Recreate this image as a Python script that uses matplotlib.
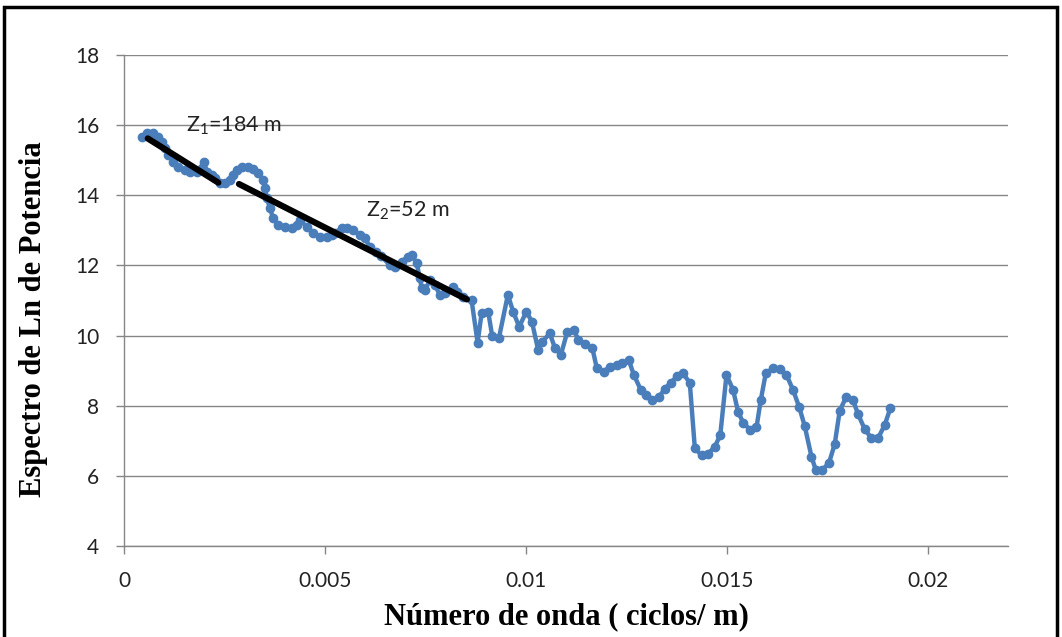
import numpy as np
import matplotlib
matplotlib.use("Agg")
import matplotlib.pyplot as plt
from matplotlib.patches import Rectangle

# espectro de potencia (numero de onda, ln potencia)
k = [0.000440, 0.000565, 0.000721, 0.000846, 0.000945, 0.001020, 0.001095, 0.001219,
     0.001343, 0.001517, 0.001642, 0.001808, 0.001933, 0.001990, 0.002057, 0.002182,
     0.002264, 0.002388, 0.002512, 0.002637, 0.002711, 0.002803, 0.002928, 0.003085,
     0.003209, 0.003333, 0.003465, 0.003507, 0.003550, 0.003632, 0.003706, 0.003831,
     0.004005, 0.004172, 0.004296, 0.004378, 0.004545, 0.004701, 0.004876, 0.005042,
     0.005167, 0.005249, 0.005415, 0.005540, 0.005697, 0.005871, 0.005995, 0.006120,
     0.006269, 0.006393, 0.006617, 0.006741, 0.006908, 0.007065, 0.007157, 0.007281,
     0.007363, 0.007406, 0.007488, 0.007612, 0.007736, 0.007861, 0.007985, 0.008192,
     0.008276, 0.008440, 0.008649, 0.008799, 0.008898, 0.009062, 0.009162, 0.009328,
     0.009552, 0.009684, 0.009834, 0.010012, 0.010149, 0.010306, 0.010410, 0.010597,
     0.010721, 0.010871, 0.011032, 0.011206, 0.011301, 0.011468, 0.011654, 0.011766,
     0.011940, 0.012090, 0.012256, 0.012388, 0.012562, 0.012687, 0.012861, 0.012998,
     0.013147, 0.013308, 0.013458, 0.013607, 0.013769, 0.013913, 0.014080, 0.014204,
     0.014371, 0.014535, 0.014701, 0.014838, 0.014993, 0.015157, 0.015281, 0.015405,
     0.015572, 0.015739, 0.015846, 0.015970, 0.016152, 0.016318, 0.016485, 0.016649,
     0.016799, 0.016940, 0.017107, 0.017214, 0.017380, 0.017545, 0.017687, 0.017811,
     0.017978, 0.018142, 0.018266, 0.018433, 0.018600, 0.018764, 0.018930, 0.019072]
lnP = [15.67, 15.78, 15.78, 15.66, 15.53, 15.35, 15.15, 14.96,
       14.82, 14.72, 14.67, 14.67, 14.78, 14.96, 14.67, 14.58,
       14.49, 14.35, 14.35, 14.44, 14.58, 14.72, 14.82, 14.82,
       14.75, 14.64, 14.44, 14.20, 13.92, 13.64, 13.35, 13.15,
       13.10, 13.08, 13.15, 13.30, 13.10, 12.92, 12.82, 12.82,
       12.87, 12.92, 13.07, 13.08, 13.01, 12.87, 12.77, 12.53,
       12.38, 12.27, 12.01, 11.96, 12.11, 12.25, 12.30, 12.06,
       11.64, 11.35, 11.30, 11.58, 11.44, 11.16, 11.21, 11.39,
       11.25, 11.11, 11.01, 9.80, 10.63, 10.68, 9.99, 9.92,
       11.16, 10.68, 10.25, 10.68, 10.40, 9.59, 9.83, 10.06,
       9.65, 9.45, 10.11, 10.15, 9.87, 9.76, 9.64, 9.07,
       8.97, 9.11, 9.16, 9.21, 9.30, 8.88, 8.45, 8.31,
       8.15, 8.24, 8.48, 8.66, 8.84, 8.92, 8.65, 6.80,
       6.58, 6.63, 6.83, 7.16, 8.88, 8.45, 7.83, 7.52,
       7.32, 7.38, 8.16, 8.92, 9.07, 9.04, 8.88, 8.45,
       7.97, 7.42, 6.55, 6.17, 6.17, 6.37, 6.91, 7.86,
       8.26, 8.16, 7.76, 7.33, 7.07, 7.07, 7.45, 7.93]

# rectas de ajuste (profundidades Z1 y Z2)
fit1_k = [0.000590, 0.002346]
fit1_y = [15.62, 14.36]
fit2_k = [0.002861, 0.008532]
fit2_y = [14.32, 11.03]

blue = '#4A7EBB'
grey = '#868686'

plt.rcParams['mathtext.fontset'] = 'custom'
plt.rcParams['mathtext.rm'] = 'Lato'
plt.rcParams['mathtext.it'] = 'Lato'

fig = plt.figure(figsize=(10.62, 6.37), dpi=100)
ax = fig.add_axes([0.1168, 0.1429, 0.8324, 0.7708])

ax.plot(k, lnP, color=blue, linewidth=3.2, marker='o', markersize=6,
        markerfacecolor=blue, markeredgecolor=blue, zorder=3)
ax.plot(fit1_k, fit1_y, color='black', linewidth=4.5, solid_capstyle='round', zorder=4)
ax.plot(fit2_k, fit2_y, color='black', linewidth=4.5, solid_capstyle='round', zorder=4)

ax.text(0.00155, 15.82, r'Z$_1$=184 m', fontsize=15.5, family='Lato', color='#222222')
ax.text(0.00601, 13.40, r'Z$_2$=52 m', fontsize=15.5, family='Lato', color='#222222')

ax.set_xlim(0, 0.022)
ax.set_ylim(4, 18)
ax.set_xticks([0, 0.005, 0.01, 0.015, 0.02])
ax.set_xticklabels(['0', '0.005', '0.01', '0.015', '0.02'])
ax.set_yticks(np.arange(4, 19, 2))
ax.yaxis.grid(True, color=grey, linewidth=1.0)
ax.set_axisbelow(True)
for s in ['top', 'right']:
    ax.spines[s].set_visible(False)
for s in ['left', 'bottom']:
    ax.spines[s].set_color(grey)
    ax.spines[s].set_linewidth(1.0)
ax.tick_params(axis='both', colors=grey, length=6, width=1.0, labelsize=15, labelcolor='#222222')
ax.tick_params(axis='x', pad=12)
ax.tick_params(axis='y', pad=12)
for lab in ax.get_xticklabels() + ax.get_yticklabels():
    lab.set_family('Lato')

ax.set_xlabel(u'Número de onda ( ciclos/ m)', family='Liberation Serif', fontweight='bold',
              fontsize=22, labelpad=8)
ax.set_ylabel('Espectro de Ln de Potencia', family='Liberation Serif', fontweight='bold',
              fontsize=22)
ax.yaxis.set_label_coords(-0.086, 0.463)

# marco del area del grafico
fig.patches.append(Rectangle((4 / 1062., -0.05), 1053 / 1062., 1 - 7 / 637. + 0.05,
                             transform=fig.transFigure, fill=False, edgecolor='black',
                             linewidth=2.5))

fig.savefig('out.png', dpi=100)
